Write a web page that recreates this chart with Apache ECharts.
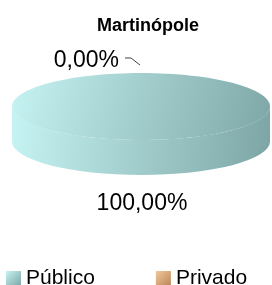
<!DOCTYPE html>
<html>
<head>
<meta charset="utf-8">
<script src="https://cdn.jsdelivr.net/npm/echarts@6/dist/echarts.min.js"></script>
<style>
html, body { margin: 0; padding: 0; background: #fff; }
#chart { width: 272px; height: 285px; }
</style>
</head>
<body>
<div id="chart"></div>
<script>
const chartTitle = 'Martinópole'
const categories = ['Público', 'Privado']
const shares = [100, 0]

const faceColors = [
  ['#c6f3f3', '#7ea6a6'],
  ['#f2c89c', '#b98656']
]
const total = shares.reduce((a, b) => a + b, 0)

// ellipse of the cylinder top
const cx = 141
const cy = 106.5
const rx = 129
const ry = 33.5
const depth = 35

function fmt (v) {
  return (v / total * 100).toFixed(2).replace('.', ',') + '%'
}

function grad (c, x2, y2) {
  return {
    type: 'linear', x: 0, y: 0, x2: x2, y2: y2,
    colorStops: [{ offset: 0, color: c[0] }, { offset: 1, color: c[1] }]
  }
}

// degrees clockwise from 12 o'clock
function pt (deg, dy) {
  const a = deg * Math.PI / 180
  return [cx + rx * Math.sin(a), cy + (dy || 0) - ry * Math.cos(a)]
}

function renderSlice (params, api) {
  const v = api.value(0)
  const idx = api.value(1)
  let before = 0
  for (let k = 0; k < idx; k++) before += shares[k]
  const a1 = before / total * 360
  const a2 = (before + v) / total * 360
  const mid = (a1 + a2) / 2
  const c = faceColors[idx]
  const children = []

  if (v > 0) {
    // side face (only the front part is visible)
    const s1 = Math.max(a1, 90)
    const s2 = Math.min(a2, 270)
    if (s2 > s1) {
      const p1 = pt(s1)
      const p2 = pt(s2)
      const q2 = pt(s2, depth)
      const q1 = pt(s1, depth)
      const large = (s2 - s1) > 180 ? 1 : 0
      children.push({
        type: 'path',
        shape: {
          pathData: 'M' + p1[0] + ' ' + p1[1] +
            ' A' + rx + ' ' + ry + ' 0 ' + large + ' 1 ' + p2[0] + ' ' + p2[1] +
            ' L' + q2[0] + ' ' + q2[1] +
            ' A' + rx + ' ' + ry + ' 0 ' + large + ' 0 ' + q1[0] + ' ' + q1[1] + ' Z'
        },
        style: { fill: grad(c, 1, 0.3) }
      })
    }
    // top face
    if (a2 - a1 >= 360) {
      children.push({
        type: 'ellipse',
        shape: { cx: cx, cy: cy, rx: rx, ry: ry },
        style: { fill: grad(c, 1, 1) }
      })
    } else {
      const p1 = pt(a1)
      const p2 = pt(a2)
      const large = (a2 - a1) > 180 ? 1 : 0
      children.push({
        type: 'path',
        shape: {
          pathData: 'M' + cx + ' ' + cy + ' L' + p1[0] + ' ' + p1[1] +
            ' A' + rx + ' ' + ry + ' 0 ' + large + ' 1 ' + p2[0] + ' ' + p2[1] + ' Z'
        },
        style: { fill: grad(c, 1, 1) }
      })
    }
  }

  // data label
  const font = '23px "Liberation Sans", Arial, sans-serif'
  if (Math.cos(mid * Math.PI / 180) < 0) {
    const p = pt(mid, depth)
    children.push({
      type: 'text',
      style: { text: fmt(v), x: p[0] + 1, y: p[1] + 29, align: 'center', verticalAlign: 'middle', fill: '#000', font: font }
    })
  } else {
    const p = pt(mid)
    children.push({
      type: 'polyline',
      shape: { points: [[p[0] - 16, p[1] - 15], [p[0] - 10, p[1] - 15], [p[0] - 1, p[1] - 8]] },
      style: { stroke: '#444', lineWidth: 1, fill: null }
    })
    children.push({
      type: 'text',
      style: { text: fmt(v), x: p[0] - 22, y: p[1] - 12, align: 'right', verticalAlign: 'middle', fill: '#000', font: font }
    })
  }
  return { type: 'group', children: children }
}

const chart = echarts.init(document.getElementById('chart'))
chart.setOption({
  animation: false,
  title: {
    text: chartTitle,
    left: 97,
    top: 17,
    padding: 0,
    textStyle: { fontFamily: 'Liberation Sans', fontWeight: 'bold', fontSize: 18, color: '#000' }
  },
  legend: {
    data: categories,
    icon: 'rect',
    left: 6,
    top: 268,
    padding: 0,
    itemWidth: 15,
    itemHeight: 15,
    itemGap: 61,
    textStyle: { fontFamily: 'Liberation Sans', fontSize: 21, color: '#000' }
  },
  series: categories.map((name, i) => ({
    type: 'custom',
    name: name,
    coordinateSystem: 'none',
    itemStyle: { color: grad(faceColors[i], 1, 1) },
    data: [[shares[i], i]],
    renderItem: renderSlice
  }))
})
</script>
</body>
</html>
